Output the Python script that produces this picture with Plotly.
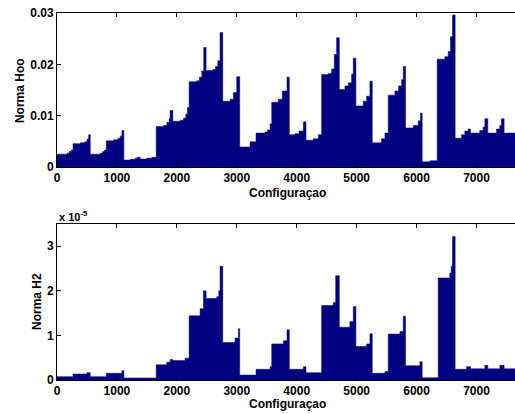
import plotly.graph_objects as go

# Step breakpoints: value holds from x until next breakpoint
hoo_x = [0, 167, 205, 239, 267, 389, 461, 500, 528, 555, 722, 761, 794, 822, 944, 1016, 1055, 1083,
         1116, 1222, 1305, 1339, 1389, 1500, 1583, 1655, 1778, 1833, 1872, 1888, 1933, 2055, 2110, 2149,
         2177, 2205, 2332, 2377, 2416, 2449, 2488, 2599, 2644, 2683, 2721, 2766, 2888, 2944, 2999, 3049,
         3221, 3321, 3471, 3510, 3555, 3583, 3694, 3760, 3838, 3877, 3972, 4038, 4111, 4155, 4277, 4361,
         4416, 4527, 4583, 4627, 4666, 4711, 4805, 4861, 4916, 4944, 4988, 5111, 5166, 5222, 5261, 5416,
         5472, 5527, 5638, 5700, 5750, 5778, 5816, 5944, 6028, 6066, 6094, 6222, 6344, 6472, 6528, 6566,
         6600, 6644, 6750, 6805, 6861, 6900, 7055, 7111, 7139, 7189, 7333, 7389, 7416, 7461, 7776]
hoo_y = [0.0025, 0.0027, 0.0030, 0.0033, 0.00455, 0.0047, 0.0049, 0.0054, 0.0063, 0.0025, 0.0027, 0.0030,
         0.0033, 0.0051, 0.0053, 0.0056, 0.0060, 0.0071, 0.00135, 0.0015, 0.0017, 0.0019, 0.00155, 0.0017,
         0.0019, 0.0079, 0.0081, 0.0087, 0.0094, 0.0110, 0.0089, 0.0091, 0.0095, 0.0103, 0.0116, 0.0166,
         0.0168, 0.0175, 0.0187, 0.0233, 0.0188, 0.0190, 0.0196, 0.0207, 0.0262, 0.0128, 0.0132, 0.0145,
         0.0176, 0.0039, 0.0049, 0.0066, 0.0068, 0.0072, 0.0084, 0.0126, 0.0132, 0.0148, 0.0175, 0.0063,
         0.0065, 0.0070, 0.0088, 0.0052, 0.0055, 0.0063, 0.0180, 0.0182, 0.0191, 0.0219, 0.0252, 0.0151,
         0.0158, 0.0164, 0.0181, 0.0212, 0.0119, 0.0128, 0.0138, 0.0167, 0.0047, 0.0055, 0.0066, 0.0140,
         0.0148, 0.0158, 0.0170, 0.0196, 0.0076, 0.0081, 0.0090, 0.0105, 0.0010, 0.0012, 0.0210, 0.0215,
         0.0225, 0.0254, 0.0296, 0.0056, 0.0063, 0.0070, 0.0074, 0.0066, 0.0071, 0.0078, 0.0094, 0.0066,
         0.0074, 0.0081, 0.0094, 0.0066, 0.0066]

# H2 norm in units of 1e-5
h2_x = [0, 267, 500, 555, 822, 1083, 1116, 1655, 1830, 1889, 1933, 2138, 2205, 2388, 2444, 2488, 2666,
        2700, 2721, 2766, 2971, 3027, 3049, 3321, 3555, 3583, 3777, 3838, 3877, 4111, 4155, 4416, 4610,
        4650, 4711, 4888, 4944, 4988, 5166, 5222, 5261, 5472, 5527, 5722, 5778, 5816, 6055, 6094, 6361,
        6555, 6578, 6600, 6644, 6833, 6900, 7139, 7189, 7389, 7461, 7776]
h2_y = [0.075, 0.135, 0.165, 0.075, 0.15, 0.21, 0.045, 0.34, 0.40, 0.46, 0.435, 0.49, 1.44, 1.60, 2.00,
        1.83, 1.87, 2.00, 2.55, 0.84, 0.94, 1.15, 0.11, 0.24, 0.30, 0.81, 0.88, 1.125, 0.24, 0.30, 0.165,
        1.67, 1.74, 2.34, 1.185, 1.31, 1.65, 0.75, 0.81, 1.035, 0.15, 0.19, 1.03, 1.09, 1.43, 0.32, 0.41,
        0.05, 2.29, 2.40, 2.55, 3.22, 0.24, 0.30, 0.25, 0.33, 0.25, 0.33, 0.25, 0.25]

x_ticks = [0, 1000, 2000, 3000, 4000, 5000, 6000, 7000]
hoo_ticks = [0, 0.01, 0.02, 0.03]
h2_ticks = [0, 1, 2, 3]

NAVY = "#000080"
FONT = "Liberation Sans, Arial, sans-serif"

fig = go.Figure()
fig.add_trace(go.Scatter(x=hoo_x, y=hoo_y, mode="lines", line=dict(shape="hv", width=0.5, color=NAVY),
                         fill="tozeroy", fillcolor=NAVY, xaxis="x", yaxis="y", showlegend=False,
                         hoverinfo="skip"))
fig.add_trace(go.Scatter(x=h2_x, y=h2_y, mode="lines", line=dict(shape="hv", width=0.5, color=NAVY),
                         fill="tozeroy", fillcolor=NAVY, xaxis="x2", yaxis="y2", showlegend=False,
                         hoverinfo="skip"))

tickfont = dict(family=FONT, size=12, color="black", weight="bold")
xax = dict(range=[0, 7776], tickvals=x_ticks, ticks="inside", ticklen=4, tickcolor="black",
           showline=True, linecolor="black", linewidth=1, mirror="ticks", showgrid=False,
           zeroline=False, tickfont=tickfont, ticklabelstandoff=0, automargin=False)
yax = dict(ticks="inside", ticklen=4, tickcolor="black", showline=True, linecolor="black",
           linewidth=1, mirror="ticks", showgrid=False, zeroline=False, tickfont=tickfont,
           automargin=False, ticklabeloverflow="allow")

# axes run past the right edge of the window, as in the original
fig.update_layout(
    width=523, height=414,
    margin=dict(l=57, r=0, t=13, b=34),
    paper_bgcolor="white", plot_bgcolor="white",
    xaxis=dict(**xax, domain=[0, 1], anchor="y"),
    yaxis=dict(**yax, domain=[0.5804, 1], range=[0, 0.03], tickvals=hoo_ticks,
               ticktext=["0", "0.01", "0.02", "0.03"], anchor="x"),
    xaxis2=dict(**xax, domain=[0, 1], anchor="y2"),
    yaxis2=dict(**yax, domain=[0, 0.4251], range=[0, 3.5], tickvals=h2_ticks,
                ticktext=["0", "1", "2", "3"], anchor="x2"),
    showlegend=False,
)

tfont = dict(family=FONT, size=12, color="black", weight="bold")
fig.add_annotation(text="Norma Hoo", xref="paper", yref="paper", x=-0.0794, y=0.790,
                   textangle=-90, showarrow=False, font=tfont, xanchor="center", yanchor="middle")
fig.add_annotation(text="Norma H2", xref="paper", yref="paper", x=-0.0429, y=0.2125,
                   textangle=-90, showarrow=False, font=tfont, xanchor="center", yanchor="middle")
fig.add_annotation(text="Configuraçao", xref="paper", yref="paper", x=0.4936, y=0.510,
                   showarrow=False, font=tfont, xanchor="center", yanchor="middle")
fig.add_annotation(text="Configuraçao", xref="paper", yref="paper", x=0.4936, y=-0.0665,
                   showarrow=False, font=tfont, xanchor="center", yanchor="middle")
fig.add_annotation(text="x 10<sup>-5</sup>", xref="paper", yref="paper", x=0.0, y=0.4469,
                   showarrow=False, font=dict(family=FONT, size=11, color="black", weight="bold"),
                   xanchor="left", yanchor="middle")

fig.write_html(
    "out.html",
    config={"displayModeBar": False},
    post_script="document.body.style.margin='0';document.documentElement.style.overflow='hidden';",
)
